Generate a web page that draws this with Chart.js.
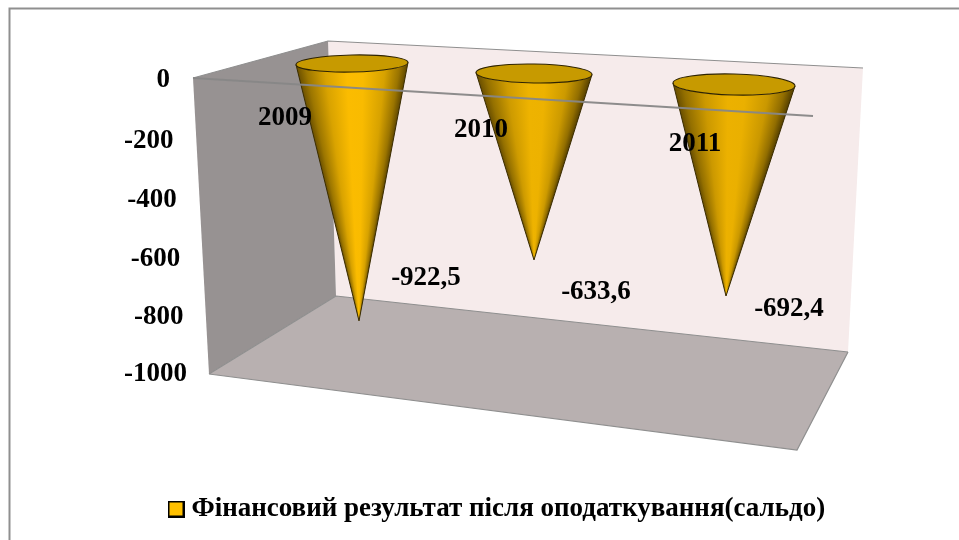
<!DOCTYPE html>
<html><head><meta charset="utf-8">
<style>html,body{margin:0;padding:0;background:#fff}canvas{display:block;filter:blur(0.35px)}</style>
<script src="https://cdn.jsdelivr.net/npm/chart.js@4"></script>
</head><body><canvas id="c" width="959" height="540" style="width:959px;height:540px"></canvas>
<script>
const categories = ['2009', '2010', '2011'];
const seriesName = 'Фінансовий результат після оподаткування(сальдо)';
const seriesValues = [-922.5, -633.6, -692.4];
const axisMin = -1000, axisMax = 0, axisStep = 200;

const FONT = '"Liberation Serif","Times New Roman",serif';
const AXIS_FONT = 'bold 27px ' + FONT;
// perspective layout of the pseudo-3D scene
const CONES = [
  {dx:0,  rimDy:-15.5, depth:0.949, rx:56, ry:8.5,  tilt:-0.02,  apexDx:7,  bright:1.00, catDx:-67, catDy:39,  valDx:67, valDy:-42.5},
  {dx:0,  rimDy:-5.5,  depth:1.001, rx:58, ry:9.5,  tilt:0.017,  apexDx:0,  bright:0.95, catDx:-53, catDy:51,  valDx:62, valDy:32.5},
  {dx:18, rimDy:5.5,   depth:1.039, rx:61, ry:10.5, tilt:0.025,  apexDx:-8, bright:0.94, catDx:-39, catDy:65,  valDx:63, valDy:13.5}
];
const WALLS = {
  left:[[193,78],[328,41],[336,296],[209,374]],
  back:[[328,41],[863,68],[848,352],[336,296]],
  floor:[[209,374],[336,296],[848,352],[797,450]]
};
const STOPS = [[0,[110,82,0]],[.08,[156,118,0]],[.25,[217,163,0]],[.45,[251,188,0]],[.6,[249,187,0]],[.8,[215,162,0]],[.93,[154,116,0]],[1,[95,71,0]]];
function rgb(c,b){return 'rgb('+c.map(v=>Math.round(v*b)).join(',')+')';}
function poly(ctx,p,fill){
  ctx.beginPath();p.forEach((q,i)=>i?ctx.lineTo(q[0],q[1]):ctx.moveTo(q[0],q[1]));ctx.closePath();
  ctx.fillStyle=fill;ctx.fill();
}
const scene = {
  id:'scene',
  afterLayout(chart){
    const l=chart.legend; if(!l) return;
    const h=l.bottom-l.top;
    l.left=164; l.right=959;
    l.top=509-h/2; l.bottom=l.top+h;
  },
  beforeDatasetsDraw(chart){
    const ctx=chart.ctx;
    ctx.save();
    // outer frame
    ctx.strokeStyle='#8f8f8f';ctx.lineWidth=2;
    ctx.beginPath();ctx.moveTo(9.5,540);ctx.lineTo(9.5,8.5);ctx.lineTo(959,8.5);ctx.stroke();
    poly(ctx,WALLS.back,'#f6ebeb');
    poly(ctx,WALLS.left,'#979292');
    poly(ctx,WALLS.floor,'#b8b0b0');
    ctx.strokeStyle='#8f8f8f';ctx.lineWidth=1.2;
    ctx.beginPath();
    ctx.moveTo(193,78);ctx.lineTo(328,41);ctx.lineTo(863,68);
    ctx.moveTo(209,374);ctx.lineTo(797,450);ctx.lineTo(848,352);
    ctx.moveTo(336,296);ctx.lineTo(848,352);
    ctx.moveTo(209,374);ctx.lineTo(336,296);
    ctx.stroke();
    ctx.restore();
  },
  afterDatasetsDraw(chart){
    const ctx=chart.ctx, y=chart.scales.y, x=chart.scales.x;
    const meta=chart.getDatasetMeta(0);
    ctx.save();
    meta.data.forEach((bar,i)=>{
      const c=CONES[i];
      const cx=bar.x+c.dx, cy=bar.base+c.rimDy;
      const ax=cx+c.apexDx, ay=cy+(bar.y-bar.base)*c.depth;
      const pt=th=>{const ex=c.rx*Math.cos(th),ey=c.ry*Math.sin(th);
        return [cx+ex*Math.cos(c.tilt)-ey*Math.sin(c.tilt),cy+ex*Math.sin(c.tilt)+ey*Math.cos(c.tilt)];};
      const L=pt(Math.PI),R=pt(0);
      const silhouette=()=>{
        ctx.beginPath();ctx.moveTo(R[0],R[1]);
        for(let k=1;k<=40;k++){const p=pt(Math.PI*k/40);ctx.lineTo(p[0],p[1]);}
        ctx.lineTo(ax,ay);ctx.closePath();
      };
      // body: one horizontal gradient per pixel row, narrowing towards the apex
      ctx.save();silhouette();ctx.clip();
      const y0=Math.floor(Math.min(L[1],R[1]))-1, y1=Math.ceil(ay);
      const my=(L[1]+R[1])/2;
      for(let r=y0;r<y1;r++){
        const f=Math.max(0,Math.min(1,(r+0.5-my)/(ay-my)));
        const xl=L[0]+(ax-L[0])*f, xr=R[0]+(ax-R[0])*f;
        const w=Math.max(xr-xl,0.5);
        const g=ctx.createLinearGradient(xl,0,xl+w,0);
        STOPS.forEach(s=>g.addColorStop(s[0],rgb(s[1],c.bright)));
        ctx.fillStyle=g;ctx.fillRect(xl-2,r,w+4,1.05);
      }
      ctx.restore();
      // rim opening
      ctx.beginPath();ctx.ellipse(cx,cy,c.rx,c.ry,c.tilt,0,Math.PI*2);
      ctx.fillStyle='#c79a00';ctx.fill();
      ctx.strokeStyle='#2e2300';ctx.lineWidth=1.1;ctx.stroke();
      // silhouette edges
      ctx.strokeStyle='#3a2c00';ctx.lineWidth=1;
      ctx.beginPath();ctx.moveTo(L[0],L[1]);ctx.lineTo(ax,ay);ctx.lineTo(R[0],R[1]);ctx.stroke();
    });
    // zero line passes over the cones
    const y0=y.getPixelForValue(0);
    ctx.strokeStyle='rgba(135,135,135,0.95)';ctx.lineWidth=2;
    ctx.beginPath();ctx.moveTo(193,y0-1);ctx.lineTo(813,y0+37);ctx.stroke();
    // axis tick labels follow the slanted front edge of the wall
    ctx.fillStyle='#000';ctx.font=AXIS_FONT;ctx.textAlign='right';ctx.textBaseline='middle';
    y.ticks.forEach(t=>{
      const py=y.getPixelForValue(t.value);
      const f=(py-y.top)/(y.bottom-y.top);
      ctx.fillText(String(t.value),170+17*f,py+12*f*(1-f)+1);
    });
    // category + value labels
    ctx.textAlign='center';
    meta.data.forEach((bar,i)=>{
      const c=CONES[i];
      ctx.fillText(x.getLabelForValue(i),bar.x+c.dx+c.catDx,bar.base+c.catDy);
      const cy=bar.base+c.rimDy, ay=cy+(bar.y-bar.base)*c.depth;
      const v=seriesValues[i].toFixed(1).replace('.',',');
      ctx.fillText(v,bar.x+c.dx+c.apexDx+c.valDx,ay+c.valDy);
    });
    ctx.restore();
  }
};
function swatch(){
  const s=document.createElement('canvas');s.width=17;s.height=17;
  const x=s.getContext('2d');
  x.fillStyle='#000';x.fillRect(0,0,17,17);
  x.fillStyle='#ffc000';x.fillRect(2,2,13,13);
  return s;
}
new Chart(document.getElementById('c'),{
  type:'bar',
  data:{labels:categories,datasets:[{label:seriesName,data:seriesValues,backgroundColor:'rgba(0,0,0,0)',borderWidth:0}]},
  plugins:[scene],
  options:{
    responsive:false,animation:false,devicePixelRatio:1,
    layout:{padding:{left:261,right:152,top:79,bottom:120}},
    scales:{
      x:{display:false,type:'category'},
      y:{display:false,min:axisMin,max:axisMax,ticks:{stepSize:axisStep}}
    },
    plugins:{
      tooltip:{enabled:false},
      title:{display:false},
      legend:{display:true,position:'bottom',align:'start',
        labels:{color:'#000',font:{family:FONT,size:27,weight:'bold'},usePointStyle:true,boxWidth:4,padding:10,
          generateLabels:()=>[{text:seriesName,fillStyle:'#ffc000',strokeStyle:'#000',lineWidth:2,pointStyle:swatch(),datasetIndex:0}]}}
    }
  }
});
</script></body></html>
